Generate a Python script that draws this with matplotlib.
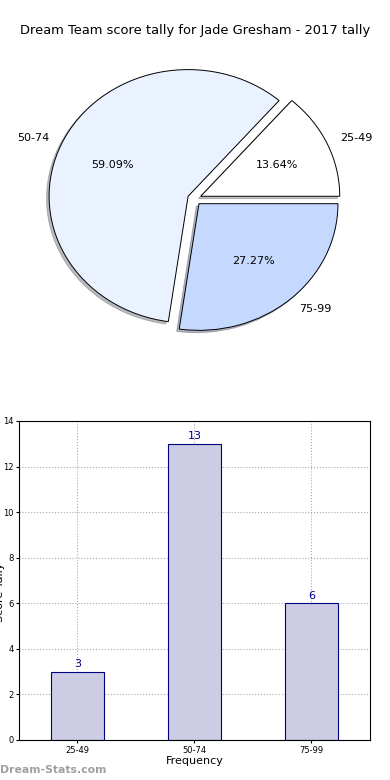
import matplotlib
matplotlib.use("Agg")
import matplotlib.pyplot as plt

categories = ["25-49", "50-74", "75-99"]
counts = [3, 13, 6]
pie_colors = ["#ffffff", "#eaf1ff", "#c5d9ff"]
title = "Dream Team score tally for Jade Gresham - 2017 tally"

fig = plt.figure(figsize=(3.9, 7.8), dpi=100)

# Pie chart
ax1 = fig.add_axes([0.053, 0.542, 0.891, 0.406])
ax1.pie(counts, labels=categories, colors=pie_colors, autopct="%.2f%%",
        explode=[0.05, 0.05, 0.05],
        shadow=dict(ox=-0.013, oy=-0.013, shade=0.5), startangle=0,
        wedgeprops=dict(edgecolor="black", linewidth=0.7),
        textprops=dict(fontsize=8))
ax1.set_aspect("auto")
ax1.set_xlim(-1.25, 1.25)
ax1.set_ylim(-1.25, 1.25)
fig.text(0.5, 0.961, title, ha="center", va="center", fontsize=9.4)

# Bar chart
ax2 = fig.add_axes([0.0487, 0.0513, 0.9, 0.409])
x = list(range(len(categories)))
bars = ax2.bar(x, counts, width=0.45, color="#ccccE5", edgecolor="#000080",
               linewidth=0.8, zorder=2)
for xi, c in zip(x, counts):
    ax2.text(xi, c + 0.12, str(c), ha="center", va="bottom", color="#00008B",
             fontsize=8)
ax2.set_xlim(-0.5, 2.5)
ax2.set_ylim(0, 14)
ax2.set_yticks(range(0, 15, 2))
ax2.set_xticks(x)
ax2.set_xticklabels(categories)
ax2.tick_params(labelsize=6, length=2, pad=2)
ax2.grid(True, linestyle=":", color="#aaaaaa", linewidth=0.8, zorder=0)
ax2.set_xlabel("Frequency", fontsize=8, labelpad=1)
fig.text(0.0, 0.24, "Score Tally", rotation=90, ha="center", va="center", fontsize=8)

fig.text(0.0, 0.013, "Dream-Stats.com", color="#a0a0a0", fontsize=7.8,
         fontweight="bold", ha="left", va="center")

fig.savefig("out.png", dpi=100)
